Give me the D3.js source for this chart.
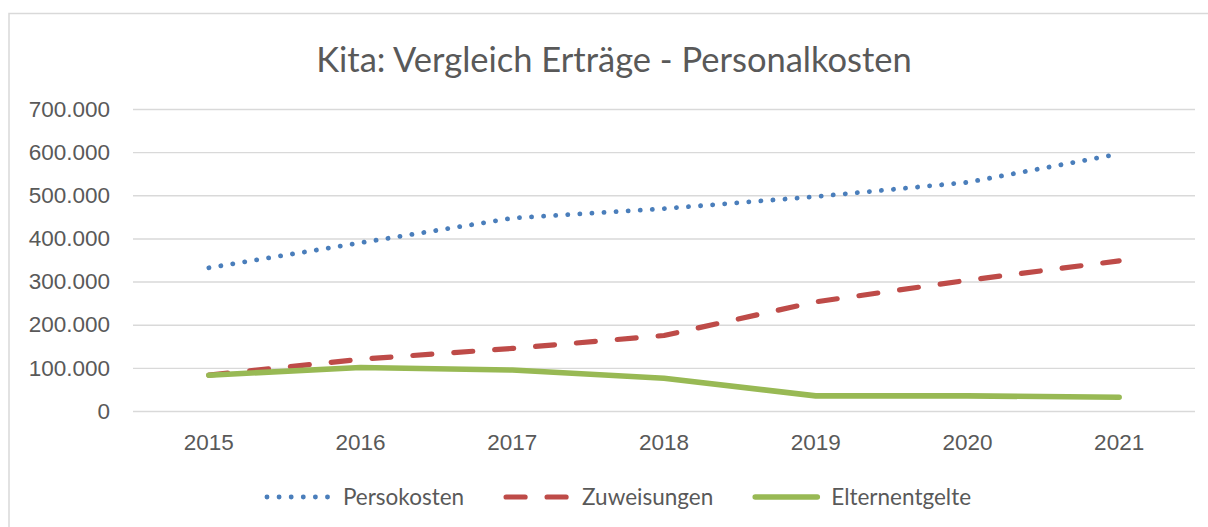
<!DOCTYPE html>
<html lang="de">
<head>
<meta charset="utf-8">
<title>Kita: Vergleich Erträge - Personalkosten</title>
<script src="https://d3js.org/d3.v7.min.js"></script>
<style>
body { margin: 0; background: #fff; }
svg { display: block; font-family: Lato, "Open Sans", sans-serif; }
.axis text { fill: #595959; font-size: 22.5px; }
.axis path { display: none; }
.y.axis line { stroke: #d9d9d9; stroke-width: 1.4px; }
.x.axis line { display: none; }
</style>
</head>
<body>
<script>

// data
var years = ["2015", "2016", "2017", "2018", "2019", "2020", "2021"];
var persokosten = [332000, 390000, 447000, 469000, 497000, 530000, 596000];
var zuweisungen = [83000, 120000, 145000, 175000, 253000, 303000, 348000];
var elternentgelte = [83000, 101000, 95000, 76000, 35000, 35000, 32000];
var yTicks = [0, 100000, 200000, 300000, 400000, 500000, 600000, 700000];

var seriesNames = ["Persokosten", "Zuweisungen", "Elternentgelte"];
var seriesValues = [persokosten, zuweisungen, elternentgelte];
var seriesColors = ["#4a7ebb", "#be4b48", "#98b954"];
var seriesWidth = [4.8, 5.2, 5.6];
var seriesDash = ["0.1,12", "19,22", null];

var width = 1208, height = 527;
var plot = {left: 133, right: 1195, top: 109, bottom: 411};

var de = d3.formatLocale({decimal: ",", thousands: ".", grouping: [3], currency: ["", " €"]});
var fmt = de.format(",.0f");

var svg = d3.select("body").append("svg")
    .attr("width", width)
    .attr("height", height);

// chart frame (runs off the right and bottom of the picture)
svg.append("rect")
    .attr("x", 9).attr("y", 13.5)
    .attr("width", 1400).attr("height", 700)
    .attr("fill", "none")
    .attr("stroke", "#d9d9d9")
    .attr("stroke-width", 1.5);

svg.append("text")
    .attr("x", 614).attr("y", 72)
    .attr("text-anchor", "middle")
    .style("font-size", "34.5px")
    .style("fill", "#595959")
    .text("Kita: Vergleich Erträge - Personalkosten");

var xScale = d3.scaleBand().domain(years).range([plot.left, plot.right]).padding(0);
var yScale = d3.scaleLinear().domain([0, 700000]).range([plot.bottom, plot.top]);

var yAxis = d3.axisLeft(yScale)
    .tickValues(yTicks)
    .tickFormat(fmt)
    .tickSize(-(plot.right - plot.left))
    .tickPadding(23);

var xAxis = d3.axisBottom(xScale).tickSize(0).tickPadding(23);

svg.append("g")
    .attr("class", "y axis")
    .attr("transform", "translate(" + plot.left + ",0)")
    .call(yAxis);

svg.append("g")
    .attr("class", "x axis")
    .attr("transform", "translate(0," + plot.bottom + ")")
    .call(xAxis);

var line = d3.line()
    .x(function(d, i) { return xScale(years[i]) + xScale.bandwidth() / 2; })
    .y(function(d) { return yScale(d); });

seriesValues.forEach(function(vals, k) {
  svg.append("path")
      .datum(vals)
      .attr("d", line)
      .attr("fill", "none")
      .attr("stroke", seriesColors[k])
      .attr("stroke-width", seriesWidth[k])
      .attr("stroke-linecap", "round")
      .attr("stroke-linejoin", "round")
      .attr("stroke-dasharray", seriesDash[k]);
});

// legend, centred under the chart
var legend = svg.append("g").attr("class", "legend");
var sampleW = 66, textGap = 12, itemGap = 40, legendY = 497;

var items = legend.selectAll("g")
    .data(seriesNames)
    .enter().append("g");

items.append("text")
    .attr("x", sampleW + textGap)
    .attr("y", legendY + 8)
    .style("font-size", "22.5px")
    .style("fill", "#595959")
    .text(function(d) { return d; });

items.append("line")
    .attr("x1", 2).attr("x2", sampleW - 2)
    .attr("y1", legendY).attr("y2", legendY)
    .attr("stroke", function(d, i) { return seriesColors[i]; })
    .attr("stroke-width", function(d, i) { return seriesWidth[i]; })
    .attr("stroke-linecap", "round")
    .attr("stroke-dasharray", function(d, i) { return seriesDash[i]; });

var widths = [];
items.each(function() {
  widths.push(sampleW + textGap + d3.select(this).select("text").node().getComputedTextLength());
});
var total = d3.sum(widths) + itemGap * (widths.length - 1);
var xPos = 618 - total / 2;
items.attr("transform", function(d, i) {
  var t = "translate(" + xPos + ",0)";
  xPos += widths[i] + itemGap;
  return t;
});

</script>
</body>
</html>
